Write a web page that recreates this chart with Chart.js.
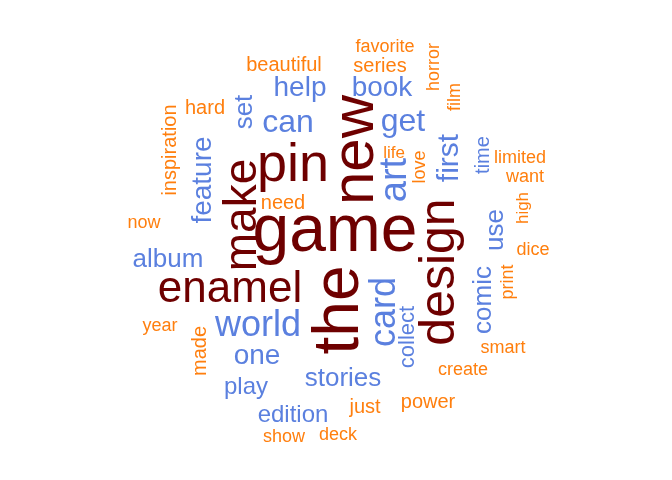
<!DOCTYPE html>
<html>
<head>
<meta charset="utf-8">
<script src="https://cdn.jsdelivr.net/npm/chart.js@4"></script>
<style>
  html, body { margin: 0; padding: 0; background: #fff; }
  #wrap { width: 672px; height: 480px; }
</style>
</head>
<body>
<div id="wrap"><canvas id="cloud" width="672" height="480"></canvas></div>
<script>
// word cloud data: word, position in the cloud's own units, size, orientation (1 = vertical), colour group
const words = ['game','the','new','design','pin','make','enamel',
  'world','card','art','get','can','help','book','first','set','feature','album','one','stories','play','edition','comic','use','time','collect',
  'beautiful','favorite','series','horror','film','hard','inspiration','life','love','limited','want','high','need','now','dice','print','year','made','smart','create','just','power','show','deck'];
const posX = [335,340,356,440,293,243,230,
  258,385,396,403,288,300,382,450,245,203,168,257,343,246,293,484,496,483,408,
  284,385,380,434,455,205,170,394,420,520,525,523,283,144,533,508,160,200,503,463,365,428,284,338];
const posY = [233,310,150,272,166,215,290,
  326,312,180,122,123,88,88,158,112,180,260,356,379,387,415,300,230,155,337,
  65,47,66,67,97,108,150,153,167,158,177,208,203,223,250,282,326,351,348,370,407,402,437,435];
const sizes = [66,64,60,50,54,46,44,
  36,36,38,32,32,28,28,30,26,28,26,28,26,24,24,26,26,20,22,
  20,18,20,18,18,20,20,17,18,18,18,17,20,18,18,18,18,20,18,18,20,20,18,18];
const vertical = [0,1,1,1,0,1,0,
  0,1,1,0,0,0,0,1,1,1,0,0,0,0,0,1,1,1,1,
  0,0,0,1,1,0,1,0,1,0,0,1,0,0,0,1,0,1,0,0,0,0,0,0];
const group = [0,0,0,0,0,0,0,
  1,1,1,1,1,1,1,1,1,1,1,1,1,1,1,1,1,1,1,
  2,2,2,2,2,2,2,2,2,2,2,2,2,2,2,2,2,2,2,2,2,2,2,2];
const groupColors = ['#6E0000','#5B80DF','#FF7F0E'];

const wordPlugin = {
  id: 'words',
  afterDatasetsDraw(chart) {
    const ctx = chart.ctx;
    const meta = chart.getDatasetMeta(0);
    meta.data.forEach((pt, i) => {
      ctx.save();
      ctx.translate(pt.x, pt.y);
      if (vertical[i]) ctx.rotate(-Math.PI / 2);
      ctx.font = sizes[i] + 'px "Liberation Sans", Arial, sans-serif';
      ctx.fillStyle = groupColors[group[i]];
      ctx.textAlign = 'center';
      ctx.textBaseline = 'middle';
      ctx.fillText(words[i], 0, 0);
      ctx.restore();
    });
  }
};

const ctx = document.getElementById('cloud').getContext('2d');
new Chart(ctx, {
  type: 'scatter',
  data: {
    datasets: [{
      data: words.map((w, i) => ({ x: posX[i], y: posY[i] })),
      pointRadius: 0
    }]
  },
  options: {
    responsive: false,
    animation: false,
    layout: { padding: 0 },
    plugins: { legend: { display: false }, tooltip: { enabled: false } },
    scales: {
      x: { type: 'linear', min: 0, max: 672, display: false },
      y: { type: 'linear', min: 0, max: 480, reverse: true, display: false }
    }
  },
  plugins: [wordPlugin]
});
</script>
</body>
</html>
